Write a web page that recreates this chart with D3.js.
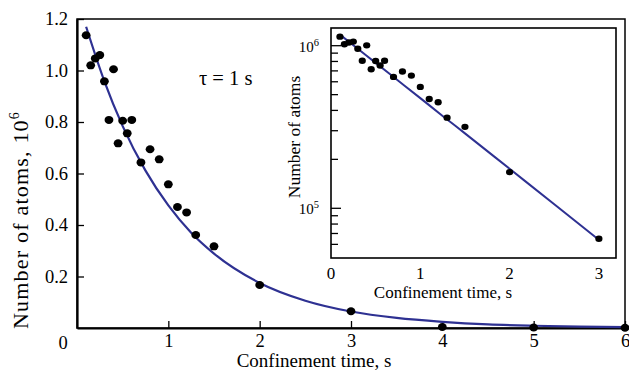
<!DOCTYPE html>
<html>
<head>
<meta charset="utf-8">
<script src="https://cdn.jsdelivr.net/npm/d3@7"></script>
<style>
  body { margin: 0; background: #fff; }
  svg text { font-family: 'Liberation Serif', 'Times New Roman', Times, 'DejaVu Serif', serif; }
</style>
</head>
<body>
<div id="chart"></div>
<script>
// measured atom numbers (units of 10^6) vs confinement time (s)
const times = [0.1, 0.15, 0.2, 0.25, 0.3, 0.35, 0.4, 0.45, 0.5, 0.55, 0.6,
  0.7, 0.8, 0.9, 1.0, 1.1, 1.2, 1.3, 1.5, 2, 3, 4, 5, 6];
const atoms = [1.137, 1.02, 1.047, 1.06, 0.958, 0.808, 1.005, 0.717, 0.805,
  0.756, 0.808, 0.643, 0.694, 0.655, 0.558, 0.47, 0.449, 0.361, 0.317,
  0.167, 0.065, 0.004, 0.002, 0.001];

// fitted decay curve (tau = 1 s)
const fitTimes = [0.1, 0.3, 0.5, 0.75, 1.0, 1.25, 1.5, 2.0, 2.5, 3.0,
  3.5, 4.0, 4.5, 5.0, 5.5, 6.0];
const fitAtoms = [1.17, 0.958, 0.784, 0.611, 0.476, 0.37, 0.289, 0.175,
  0.106, 0.064, 0.039, 0.024, 0.014, 0.0087, 0.0053, 0.0032];

const mainYTicks = [0.2, 0.4, 0.6, 0.8, 1.0, 1.2];
const mainXTicks = [1, 2, 3, 4, 5, 6];
const insetXTicks = [0, 1, 2, 3];
const insetMajor = [1e5, 1e6];
const insetMinor = [6e4, 7e4, 8e4, 9e4, 2e5, 3e5, 4e5, 5e5, 6e5, 7e5, 8e5, 9e5];

const width = 629;
const height = 372;
const fitColor = '#2e3192';

const points = times.map((t, i) => ({ t, n: atoms[i] }));
const fit = fitTimes.map((t, i) => ({ t, n: fitAtoms[i] }));

const svg = d3.select('#chart')
  .append('svg')
  .attr('width', width)
  .attr('height', height);

svg.append('rect').attr('width', width).attr('height', height).attr('fill', '#fff');

// Main panel
const x = d3.scaleLinear().domain([0, 6]).range([77, 625]);
const y = d3.scaleLinear().domain([0, 1.2]).range([328, 19]);

svg.append('rect')
  .attr('x', 77).attr('y', 19)
  .attr('width', 625 - 77).attr('height', 328 - 19)
  .attr('fill', 'none')
  .attr('stroke', '#000')
  .attr('stroke-width', 1.5);

const yAxis = svg.append('g')
  .attr('transform', 'translate(77,0)')
  .call(d3.axisLeft(y)
    .tickValues(mainYTicks)
    .tickSizeInner(-7)
    .tickSizeOuter(0)
    .tickPadding(9)
    .tickFormat(d3.format('.1f')));

const xAxis = svg.append('g')
  .attr('transform', 'translate(0,328)')
  .call(d3.axisBottom(x)
    .tickValues(mainXTicks)
    .tickSizeInner(-7)
    .tickSizeOuter(0)
    .tickPadding(6)
    .tickFormat(d3.format('d')));

[yAxis, xAxis].forEach(g => {
  g.attr('font-family', null);
  g.select('.domain').attr('stroke-width', 2.2);
  g.selectAll('.tick line').attr('stroke-width', 1.3);
  g.selectAll('text')
    .attr('font-size', 18.5)
    .attr('fill', '#000');
});

svg.append('text')
  .attr('x', 63).attr('y', 349)
  .attr('text-anchor', 'middle')
  .attr('font-size', 18.5)
  .text('0');

svg.append('text')
  .attr('x', 314).attr('y', 367)
  .attr('text-anchor', 'middle')
  .attr('font-size', 19)
  .text('Confinement time, s');

const yTitle = svg.append('text')
  .attr('transform', 'translate(28,220) rotate(-90)')
  .attr('text-anchor', 'middle')
  .attr('font-size', 22)
  .attr('letter-spacing', 1.2);
yTitle.append('tspan').text('Number of atoms, 10');
yTitle.append('tspan').attr('font-size', 14).attr('dy', -9).text('6');

svg.append('text')
  .attr('x', 199).attr('y', 85)
  .attr('font-size', 20.5)
  .text('\u03C4 = 1 s');

const line = d3.line()
  .x(d => x(d.t))
  .y(d => y(d.n))
  .curve(d3.curveMonotoneX);

svg.append('path')
  .datum(fit)
  .attr('d', line)
  .attr('fill', 'none')
  .attr('stroke', fitColor)
  .attr('stroke-width', 2.2);

svg.append('g')
  .selectAll('ellipse')
  .data(points)
  .enter().append('ellipse')
    .attr('cx', d => x(d.t))
    .attr('cy', d => y(d.n))
    .attr('rx', 4.4)
    .attr('ry', 4)
    .attr('fill', '#000');

// Inset (log scale)
const xi = d3.scaleLinear().domain([0, 1]).range([331, 420.3]);
const yi = d3.scaleLog().domain([1e5, 1e6]).range([208.3, 45.7]);
const insetLeft = 331, insetRight = 616, insetTop = 28, insetBottom = 258;

const inset = svg.append('g');

inset.append('rect')
  .attr('x', insetLeft).attr('y', insetTop)
  .attr('width', insetRight - insetLeft).attr('height', insetBottom - insetTop)
  .attr('fill', '#fff')
  .attr('stroke', '#000')
  .attr('stroke-width', 1.6);

inset.append('g')
  .selectAll('line')
  .data(insetMajor.concat(insetMinor))
  .enter().append('line')
    .attr('x1', insetLeft)
    .attr('x2', d => insetLeft + (insetMajor.includes(d) ? 10 : 7))
    .attr('y1', d => yi(d))
    .attr('y2', d => yi(d))
    .attr('stroke', '#000')
    .attr('stroke-width', 1.3);

const majorLabel = inset.append('g')
  .selectAll('text')
  .data(insetMajor)
  .enter().append('text')
    .attr('x', 319)
    .attr('y', d => yi(d) + 6)
    .attr('text-anchor', 'end')
    .attr('font-size', 15);
majorLabel.append('tspan').text('10');
majorLabel.append('tspan')
  .attr('font-size', 10.5)
  .attr('dy', -6)
  .text(d => Math.round(Math.log10(d)));

inset.append('g')
  .selectAll('text')
  .data(insetXTicks)
  .enter().append('text')
    .attr('x', d => xi(d))
    .attr('y', 279)
    .attr('text-anchor', 'middle')
    .attr('font-size', 17)
    .text(d => d);

inset.append('text')
  .attr('x', 443).attr('y', 298)
  .attr('text-anchor', 'middle')
  .attr('font-size', 17)
  .text('Confinement time, s');

inset.append('text')
  .attr('transform', 'translate(300,137) rotate(-90)')
  .attr('text-anchor', 'middle')
  .attr('font-size', 17.5)
  .text('Number of atoms');

const insetLine = d3.line()
  .x(d => xi(d.t))
  .y(d => yi(d.n * 1e6))
  .curve(d3.curveMonotoneX);

inset.append('path')
  .datum(fit.filter(d => d.t <= 3))
  .attr('d', insetLine)
  .attr('fill', 'none')
  .attr('stroke', fitColor)
  .attr('stroke-width', 2);

inset.append('g')
  .selectAll('ellipse')
  .data(points.filter(d => d.t <= 3))
  .enter().append('ellipse')
    .attr('cx', d => xi(d.t))
    .attr('cy', d => yi(d.n * 1e6))
    .attr('rx', 3.6)
    .attr('ry', 3.2)
    .attr('fill', '#000');
</script>
</body>
</html>
